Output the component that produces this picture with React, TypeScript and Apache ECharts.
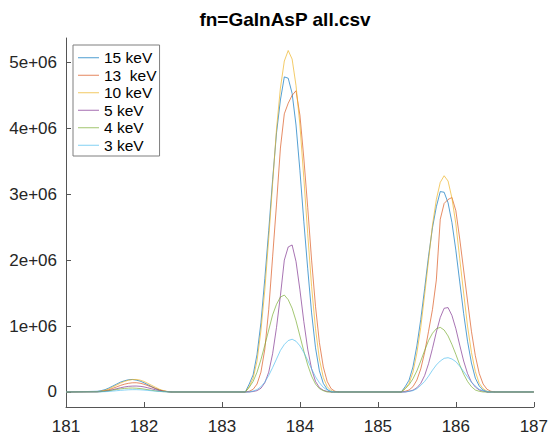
import React, { useEffect, useRef } from "react";
import * as echarts from "echarts";

// Energy axis (x) sample positions
const X = [
  181.0,
  181.40, 181.45, 181.50, 181.55, 181.60, 181.65, 181.70, 181.75, 181.80, 181.85,
  181.90, 181.95, 182.00, 182.05, 182.10, 182.15, 182.20, 182.25, 182.30, 182.35,
  183.30, 183.35, 183.40, 183.45, 183.50, 183.55, 183.60, 183.65, 183.70, 183.75,
  183.80, 183.85, 183.90, 183.95, 184.00, 184.05, 184.10, 184.15, 184.20, 184.25,
  184.30, 184.35, 184.40, 184.45, 184.50,
  185.30, 185.35, 185.40, 185.45, 185.50, 185.55, 185.60, 185.65, 185.70, 185.75,
  185.80, 185.85, 185.90, 185.95, 186.00, 186.05, 186.10, 186.15, 186.20, 186.25,
  186.30, 186.35, 186.40, 186.45, 186.50,
  187.0,
];

// Counts in units of 1e6
const keV15 = [0,
  0.01, 0.02, 0.035, 0.06, 0.09, 0.12, 0.15, 0.17, 0.185, 0.19, 0.18, 0.165, 0.14, 0.11, 0.08, 0.05, 0.03, 0.015, 0.005, 0,
  0, 0.12, 0.26, 0.57, 1.05, 1.72, 2.45, 3.22, 3.93, 4.43, 4.78, 4.76, 4.53, 4.05, 3.36, 2.59, 1.87, 1.20, 0.67, 0.32, 0.13, 0.04, 0, 0, 0,
  0, 0.08, 0.18, 0.38, 0.70, 1.10, 1.57, 2.06, 2.49, 2.81, 3.04, 3.03, 2.87, 2.57, 2.15, 1.67, 1.19, 0.77, 0.44, 0.21, 0.09, 0.03, 0, 0, 0,
  0];
const keV13 = [0,
  0.004, 0.009, 0.018, 0.033, 0.055, 0.077, 0.10, 0.118, 0.131, 0.139, 0.14, 0.133, 0.118, 0.096, 0.074, 0.052, 0.03, 0.015, 0.006, 0,
  0, 0.01, 0.04, 0.12, 0.30, 0.65, 1.25, 2.05, 2.85, 3.70, 4.22, 4.38, 4.50, 4.57, 4.20, 3.55, 2.80, 2.00, 1.30, 0.75, 0.38, 0.16, 0.05, 0.01, 0,
  0, 0.01, 0.03, 0.08, 0.18, 0.35, 0.60, 0.92, 1.25, 1.70, 2.62, 2.86, 2.92, 2.95, 2.75, 2.32, 1.85, 1.38, 0.92, 0.55, 0.28, 0.12, 0.04, 0.01, 0,
  0];
const keV10 = [0,
  0.005, 0.012, 0.025, 0.045, 0.075, 0.105, 0.135, 0.16, 0.178, 0.188, 0.19, 0.18, 0.16, 0.13, 0.10, 0.07, 0.04, 0.02, 0.008, 0,
  0, 0.08, 0.21, 0.47, 0.93, 1.55, 2.33, 3.16, 3.99, 4.61, 5.02, 5.18, 5.05, 4.65, 4.05, 3.25, 2.40, 1.60, 0.96, 0.50, 0.22, 0.08, 0.02, 0, 0,
  0, 0.05, 0.13, 0.30, 0.59, 0.98, 1.48, 2.00, 2.53, 2.92, 3.18, 3.28, 3.20, 2.94, 2.55, 2.02, 1.50, 1.00, 0.60, 0.31, 0.13, 0.05, 0.01, 0, 0,
  0];
const keV5 = [0,
  0.002, 0.006, 0.012, 0.021, 0.035, 0.05, 0.064, 0.076, 0.085, 0.089, 0.09, 0.086, 0.077, 0.063, 0.048, 0.033, 0.02, 0.01, 0.004, 0,
  0, 0, 0.007, 0.02, 0.056, 0.14, 0.30, 0.58, 0.98, 1.46, 2.00, 2.20, 2.23, 1.98, 1.55, 1.07, 0.65, 0.35, 0.16, 0.067, 0.025, 0.009, 0, 0, 0,
  0, 0, 0.01, 0.027, 0.063, 0.13, 0.25, 0.43, 0.66, 0.91, 1.13, 1.27, 1.28, 1.16, 0.96, 0.71, 0.47, 0.28, 0.15, 0.075, 0.03, 0.013, 0, 0, 0,
  0];
const keV4 = [0,
  0.003, 0.006, 0.011, 0.019, 0.028, 0.038, 0.047, 0.054, 0.058, 0.06, 0.057, 0.052, 0.044, 0.035, 0.025, 0.016, 0.009, 0.005, 0.002, 0,
  0, 0.07, 0.16, 0.30, 0.49, 0.71, 0.94, 1.17, 1.33, 1.44, 1.47, 1.40, 1.27, 1.08, 0.85, 0.62, 0.41, 0.24, 0.12, 0.05, 0.02, 0, 0, 0, 0,
  0, 0.05, 0.11, 0.20, 0.32, 0.47, 0.63, 0.78, 0.89, 0.96, 0.98, 0.94, 0.85, 0.72, 0.57, 0.41, 0.27, 0.16, 0.08, 0.03, 0.01, 0, 0, 0, 0,
  0];
const keV3 = [0,
  0.001, 0.002, 0.005, 0.008, 0.014, 0.019, 0.025, 0.029, 0.033, 0.035, 0.035, 0.033, 0.029, 0.024, 0.018, 0.013, 0.007, 0.004, 0.002, 0,
  0, 0, 0.014, 0.036, 0.08, 0.15, 0.25, 0.37, 0.50, 0.63, 0.72, 0.78, 0.80, 0.77, 0.70, 0.60, 0.48, 0.35, 0.23, 0.14, 0.07, 0.03, 0.01, 0, 0,
  0, 0, 0.01, 0.02, 0.05, 0.10, 0.16, 0.24, 0.33, 0.41, 0.47, 0.51, 0.52, 0.50, 0.46, 0.39, 0.31, 0.23, 0.15, 0.09, 0.04, 0.02, 0.01, 0, 0,
  0];

const SERIES_NAMES = ["15 keV", "13  keV", "10 keV", "5 keV", "4 keV", "3 keV"];
const SERIES_VALUES = [keV15, keV13, keV10, keV5, keV4, keV3];
const COLORS = ["#0072BD", "#D95319", "#EDB120", "#7E2F8E", "#77AC30", "#4DBEEE"];
const Y_TICKS = [0, 1e6, 2e6, 3e6, 4e6, 5e6];
const UNIT = 1e6;
const TITLE = "fn=GaInAsP all.csv";

const FONT = "Liberation Sans, Arial, Helvetica, sans-serif";

export default function App() {
  const ref = useRef<HTMLDivElement>(null);
  useEffect(() => {
    if (!ref.current) return;
    const chart = echarts.init(ref.current, undefined, { renderer: "svg" });
    const axisColor = "#555555";
    const labelColor = "#262626";
    chart.setOption({
      animation: false,
      backgroundColor: "#ffffff",
      graphic: [
        {
          type: "text",
          x: 285,
          y: 19,
          style: {
            text: TITLE,
            fontFamily: FONT,
            fontSize: 19,
            fontWeight: "bold",
            fill: "#000",
            align: "center",
            verticalAlign: "middle",
          },
        },
      ],
      grid: { left: 66, right: 16, top: 38, bottom: 28, containLabel: false },
      legend: {
        orient: "vertical",
        left: 73,
        top: 45,
        padding: [4, 3, 2, 5],
        itemGap: 0,
        itemWidth: 21,
        itemHeight: 1,
        icon: "rect",
        borderColor: "#7f7f7f",
        borderWidth: 1,
        backgroundColor: "#fff",
        selectedMode: false,
        data: SERIES_NAMES,
        itemStyle: { opacity: 0.7 },
        textStyle: { fontFamily: FONT, fontSize: 15.5, lineHeight: 17.5, color: "#000" },
      },
      xAxis: {
        type: "value",
        min: 181,
        max: 187,
        interval: 1,
        axisLine: { show: true, onZero: false, lineStyle: { color: axisColor, width: 1 } },
        axisTick: { show: true, inside: true, length: 5, lineStyle: { color: axisColor } },
        splitLine: { show: false },
        axisLabel: { fontFamily: FONT, fontSize: 17, color: labelColor, margin: 11 },
      },
      yAxis: {
        type: "value",
        min: -228000,
        max: 5370000,
        axisLine: { show: true, onZero: false, lineStyle: { color: axisColor, width: 1 } },
        axisTick: {
          show: true,
          inside: true,
          length: 5,
          customValues: Y_TICKS,
          lineStyle: { color: axisColor },
        },
        splitLine: { show: false },
        axisLabel: {
          customValues: Y_TICKS,
          fontFamily: FONT,
          fontSize: 17,
          color: labelColor,
          margin: 9,
          formatter: (v: number) => (v === 0 ? "0" : `${Math.round(v / UNIT)}e+06`),
        },
      },
      series: SERIES_NAMES.map((name, si) => ({
        name,
        type: "line",
        showSymbol: false,
        symbol: "none",
        color: COLORS[si],
        lineStyle: { width: 0.9, color: COLORS[si], opacity: 0.75 },
        data: X.map((x, i) => [x, SERIES_VALUES[si][i] * UNIT]),
      })),
    });
    return () => chart.dispose();
  }, []);
  return (
    <div
      ref={ref}
      style={{ position: "fixed", left: 0, top: 0, width: 551, height: 435, background: "#fff" }}
    />
  );
}
